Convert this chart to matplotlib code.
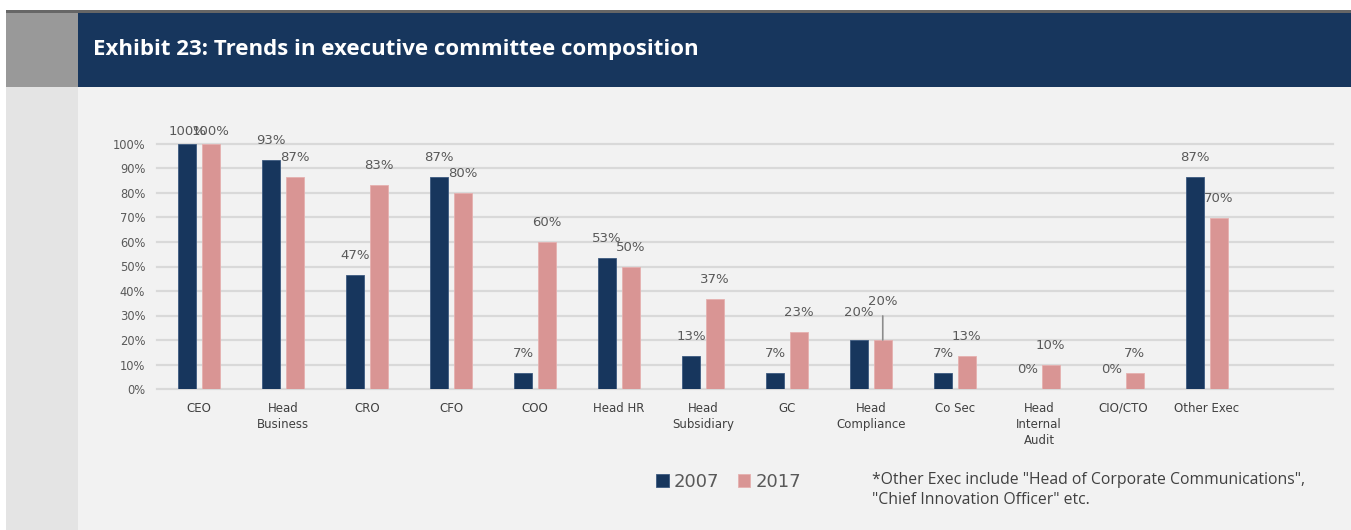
import matplotlib
matplotlib.use("Agg")
import matplotlib.pyplot as plt
from matplotlib.patches import Rectangle
import numpy as np

# data
roles = ["CEO", "Head\nBusiness", "CRO", "CFO", "COO", "Head HR", "Head\nSubsidiary",
         "GC", "Head\nCompliance", "Co Sec", "Head\nInternal\nAudit", "CIO/CTO", "Other Exec"]
share_2007 = [1.0, 0.933, 0.467, 0.867, 0.067, 0.533, 0.133, 0.067, 0.20, 0.067, 0.0, 0.0, 0.867]
share_2017 = [1.0, 0.867, 0.833, 0.80, 0.60, 0.50, 0.367, 0.233, 0.20, 0.133, 0.10, 0.067, 0.70]
years = ["2007", "2017"]
title = "Exhibit 23: Trends in executive committee composition"
note = "*Other Exec include \"Head of Corporate Communications\",\n\"Chief Innovation Officer\" etc."

navy = "#17365d"
pink = "#d99594"
W, H = 1351, 530

fig = plt.figure(figsize=(W / 100, H / 100), dpi=100, facecolor="white")

def px_rect(x0, y0, x1, y1, color):
    # pixel box (top-left origin) -> figure fraction
    fig.patches.append(Rectangle((x0 / W, 1 - y1 / H), (x1 - x0) / W, (y1 - y0) / H,
                                 transform=fig.transFigure, color=color, zorder=-5, lw=0))

px_rect(78, 87, W, H, "#f2f2f2")
px_rect(6, 87, 78, H, "#e4e4e4")
px_rect(6, 10, W, 13, "#666666")
px_rect(6, 13, 78, 87, "#999999")
px_rect(78, 13, W, 87, navy)

fig.text(93 / W, 1 - 50 / H, title, color="white", fontsize=16, fontweight="bold",
         family="Open Sans", va="center", ha="left")

ax = fig.add_axes([157 / W, 1 - 389 / H, (1333 - 157) / W, (389 - 144) / H])
ax.set_facecolor("none")
ax.set_zorder(2)

x = np.arange(len(roles))
bw = 0.215
off = 0.14
b1 = ax.bar(x - off, share_2007, bw, color=navy, edgecolor="#3d5a80", lw=0.6, zorder=3, label=years[0])
b2 = ax.bar(x + off, share_2017, bw, color=pink, edgecolor="#e6b0af", lw=0.6, zorder=3, label=years[1])

ax.set_xlim(-0.5, 13.5)
ax.set_ylim(0, 1.0)
ax.set_yticks(np.arange(0, 1.01, 0.1))
ax.set_yticklabels([f"{int(round(v * 100))}%" for v in np.arange(0, 1.01, 0.1)])
ax.set_xticks(x)
ax.set_xticklabels(roles, linespacing=1.35)
ax.tick_params(axis="y", length=0, pad=8.5, labelsize=8.3, labelcolor="#595959")
ax.tick_params(axis="x", length=0, pad=9, labelsize=8.5, labelcolor="#404040")
for s in ax.spines.values():
    s.set_visible(False)
for v in np.arange(0, 1.01, 0.1):
    ax.axhline(v, color="#d9d9d9", lw=1.6, zorder=1, clip_on=False)

# data labels
special = {(0, 0): 9, (1, 0): 9, (0, 8): 19.5}
for si, (vals, xs) in enumerate([(share_2007, x - off), (share_2017, x + off)]):
    for i, v in enumerate(vals):
        dy = special.get((si, i), 14)
        if si == 1 and i == 8:
            ax.annotate(f"{v:.0%}", xy=(xs[i], v), xytext=(0, 28), textcoords="offset points",
                        ha="center", va="center", fontsize=9.5, color="#595959",
                        arrowprops=dict(arrowstyle="-", color="#8c8c8c", lw=1.2,
                                        shrinkA=4, shrinkB=0))
            continue
        ax.annotate(f"{v:.0%}", xy=(xs[i], v), xytext=(0, dy), textcoords="offset points",
                    ha="center", va="center", fontsize=9.5, color="#595959",
                    annotation_clip=False)

leg = fig.legend(handles=[b1, b2], labels=years, loc="center left",
                 bbox_to_anchor=(656 / W, 1 - 482 / H), ncol=2, frameon=False,
                 fontsize=13, handlelength=0.7, handleheight=0.7, handletextpad=0.3,
                 columnspacing=1.0, labelcolor="#595959", borderaxespad=0, borderpad=0)

fig.text(872 / W, 1 - 490 / H, note, fontsize=11.3, family="Open Sans", color="#404040",
         va="center", ha="left", linespacing=1.25)

fig.savefig("out.png", dpi=100, facecolor="white")
